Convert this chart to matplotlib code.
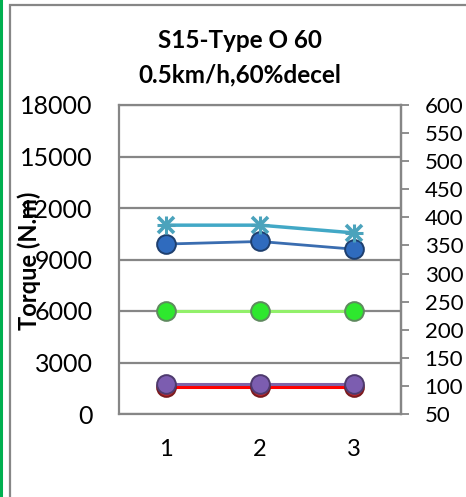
import matplotlib
matplotlib.use("Agg")
import matplotlib.pyplot as plt
from matplotlib.patches import Rectangle
from matplotlib.lines import Line2D

plt.rcParams['font.family'] = ['Lato', 'DejaVu Sans']

# data (torque, N.m)
runs = [1, 2, 3]
cyan_vals = [11000, 11000, 10550]
blue_vals = [9900, 10050, 9600]
green_vals = [6000, 6000, 6000]
purple_vals = [1750, 1750, 1750]
red_vals = [1600, 1600, 1600]

left_ticks = [0, 3000, 6000, 9000, 12000, 15000, 18000]
right_ticks = list(range(50, 601, 50))

grey = "#868686"

fig = plt.figure(figsize=(4.66, 4.97), dpi=100)

# chart frame + green border on the left
fig.patches.append(Rectangle((10 / 466, -0.1), 1.0, 1.1 - 5 / 497, transform=fig.transFigure,
                             fill=False, edgecolor=grey, linewidth=1.6))
fig.add_artist(Line2D([1.2 / 466, 1.2 / 466], [0, 1], transform=fig.transFigure,
                      color="#00B050", linewidth=2.2))

ax = fig.add_axes([119 / 466, 1 - 414 / 497, 282 / 466, 309 / 497])

def sphere(ax, x, y, col, edge, ms=13.5):
    ax.plot(x, y, "o", color=col, markersize=ms, markeredgecolor=edge,
            markeredgewidth=1.4, zorder=5)

ax.plot(runs, red_vals, color="#FF0000", linewidth=2.2, zorder=3)
sphere(ax, runs, red_vals, "#C0282E", "#7A1A1E")
ax.plot(runs, purple_vals, color="#7F63A8", linewidth=2.2, zorder=4)
sphere(ax, runs, purple_vals, "#7C5DB0", "#4E3A6E")
ax.plot(runs, green_vals, color="#92F06A", linewidth=2.2, zorder=3)
sphere(ax, runs, green_vals, "#2EE82E", "#5E8A5E")
ax.plot(runs, blue_vals, color="#3A6DB0", linewidth=2.0, zorder=3)
sphere(ax, runs, blue_vals, "#2F6BBE", "#1E3F6E")
ax.plot(runs, cyan_vals, color="#42A8C6", linewidth=2.5, zorder=3)
ax.plot(runs, cyan_vals, "x", color="#4BA3BC", markersize=11, markeredgewidth=2.6, zorder=5)
ax.plot(runs, cyan_vals, "+", color="#4BA3BC", markersize=13, markeredgewidth=2.2, zorder=5)

ax.set_xlim(0.5, 3.5)
ax.set_ylim(0, 18000)
ax.set_xticks(runs)
ax.set_yticks(left_ticks)
ax.yaxis.grid(True, color=grey, linewidth=1.6)
ax.set_axisbelow(True)
ax.tick_params(axis="y", length=0, pad=19, labelsize=18)
ax.tick_params(axis="x", length=0, pad=18, labelsize=17)
for s in ax.spines.values():
    s.set_color(grey)
    s.set_linewidth(1.6)

ax2 = ax.twinx()
ax2.set_ylim(50, 600)
ax2.set_yticks(right_ticks)
ax2.tick_params(axis="y", direction="out", length=6, width=1.3, color=grey, pad=11, labelsize=16)
for s in ax2.spines.values():
    s.set_visible(False)
ax2.spines["right"].set_visible(True)
ax2.spines["right"].set_color(grey)
ax2.spines["right"].set_linewidth(1.6)

fig.text(240 / 466, 1 - 40 / 497, "S15-Type O 60", ha="center", va="center",
         fontsize=17.5, fontweight="bold")
fig.text(240 / 466, 1 - 75 / 497, "0.5km/h,60%decel", ha="center", va="center",
         fontsize=17.5, fontweight="bold")
fig.text(29 / 466, 1 - 261 / 497, "Torque (N.m)", rotation=90, ha="center", va="center",
         fontsize=17, fontweight="bold", zorder=10)

fig.savefig("out.png", dpi=100)
